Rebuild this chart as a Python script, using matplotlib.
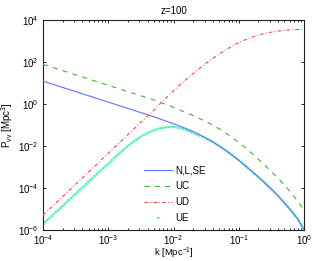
import numpy as np
import matplotlib
matplotlib.use("Agg")
import matplotlib.pyplot as plt
from matplotlib.lines import Line2D
from matplotlib.ticker import LogLocator, NullLocator

plt.rcParams['font.family'] = ['Liberation Sans', 'DejaVu Sans']
plt.rcParams['mathtext.fontset'] = 'custom'
plt.rcParams['mathtext.rm'] = 'Liberation Sans'
plt.rcParams['mathtext.it'] = 'Liberation Sans:italic'
plt.rcParams['mathtext.bf'] = 'Liberation Sans:bold'
plt.rcParams['lines.scale_dashes'] = False

# log10(k) grid, 0.1-decade steps from 1e-4 to 1
log_k = [-4.0, -3.9, -3.8, -3.7, -3.6, -3.5, -3.4, -3.3, -3.2, -3.1,
         -3.0, -2.9, -2.8, -2.7, -2.6, -2.5, -2.4, -2.3, -2.2, -2.1,
         -2.0, -1.9, -1.8, -1.7, -1.6, -1.5, -1.4, -1.3, -1.2, -1.1,
         -1.0, -0.9, -0.8, -0.7, -0.6, -0.5, -0.4, -0.3, -0.2, -0.1, 0.0]

# log10(P_vv)
log_nlse = [1.09, 0.99, 0.89, 0.79, 0.69, 0.59, 0.49, 0.39, 0.29, 0.19,
            0.09, -0.01, -0.11, -0.21, -0.31, -0.41, -0.51, -0.61, -0.72, -0.83,
            -0.94, -1.06, -1.18, -1.31, -1.46, -1.62, -1.80, -2.00, -2.21, -2.44,
            -2.68, -2.94, -3.21, -3.48, -3.76, -4.06, -4.37, -4.71, -5.07, -5.46, -5.98]
log_uc = [1.89, 1.79, 1.69, 1.59, 1.49, 1.39, 1.29, 1.19, 1.09, 0.99,
          0.89, 0.79, 0.69, 0.59, 0.49, 0.39, 0.29, 0.19, 0.08, -0.04,
          -0.16, -0.29, -0.42, -0.55, -0.69, -0.84, -1.00, -1.18, -1.38, -1.60,
          -1.83, -2.08, -2.35, -2.63, -2.92, -3.22, -3.53, -3.85, -4.22, -4.62, -5.05]
log_ud = [-5.29, -5.00, -4.71, -4.41, -4.12, -3.82, -3.53, -3.23, -2.94, -2.64,
          -2.35, -2.05, -1.76, -1.46, -1.17, -0.87, -0.58, -0.29, 0.03, 0.33,
          0.63, 0.92, 1.19, 1.45, 1.70, 1.94, 2.17, 2.38, 2.58, 2.76,
          2.92, 3.06, 3.18, 3.28, 3.36, 3.42, 3.47, 3.51, 3.53, 3.55, 3.56]
log_ue = [-5.72, -5.43, -5.14, -4.85, -4.56, -4.27, -3.98, -3.69, -3.40, -3.12,
          -2.84, -2.55, -2.27, -2.00, -1.76, -1.55, -1.38, -1.25, -1.15, -1.10,
          -1.09, -1.14, -1.25, -1.38, -1.51, -1.65, -1.81, -2.00, -2.21, -2.44,
          -2.68, -2.94, -3.21, -3.48, -3.76, -4.06, -4.37, -4.71, -5.07, -5.46, -5.98]

labels = ['N,L,SE', 'UC', 'UD', 'UE']
title = 'z=100'

k = 10.0 ** np.array(log_k)
c_blue = '#6273ff'
c_green = '#3cb832'
c_red = '#ff4545'
c_ue = '#3cf5b0'

fig = plt.figure(figsize=(3.15, 2.61), dpi=100)
ax = fig.add_axes([0.1365, 0.1188, 0.8286, 0.8046])

ax.plot(k, 10.0 ** np.array(log_ue), color=c_ue, lw=1.6,
        linestyle=(0, (0.01, 2.1)), dash_capstyle='projecting', zorder=2)
ax.plot(k, 10.0 ** np.array(log_nlse), color=c_blue, lw=0.8, zorder=3)
ax.plot(k, 10.0 ** np.array(log_uc), color=c_green, lw=0.8,
        linestyle=(0, (3.6, 3.8)), zorder=3)
ax.plot(k, 10.0 ** np.array(log_ud), color=c_red, lw=0.8,
        linestyle=(0, (2.6, 1.6, 0.6, 1.6)), zorder=3)

ax.set_xscale('log')
ax.set_yscale('log')
ax.set_xlim(1e-4, 1)
ax.set_ylim(1e-6, 1e4)
ax.set_yticks([1e-6, 1e-4, 1e-2, 1e0, 1e2, 1e4])
ax.yaxis.set_minor_locator(NullLocator())
ax.xaxis.set_minor_locator(LogLocator(base=10, subs=np.arange(2, 10), numticks=20))

ax.tick_params(which='both', direction='in', top=True, right=True,
               labelsize=7, width=0.6)
ax.tick_params(which='major', length=2.4)
ax.tick_params(axis='x', which='major', pad=2.6)
ax.tick_params(axis='y', which='major', pad=3)
ax.tick_params(which='minor', length=1.3)
for s in ax.spines.values():
    s.set_linewidth(0.8)
    s.set_color('#222222')

ax.set_title(title, fontsize=7, pad=4)
ax.set_xlabel(r'k [Mpc$^{-1}$]', fontsize=6.8)
ax.xaxis.set_label_coords(0.5, -0.077)
ax.set_ylabel(r'P$_{\rm vv}$ [Mpc$^{3}$]', fontsize=7, labelpad=2)

handles = [
    Line2D([], [], color=c_blue, lw=0.8),
    Line2D([], [], color=c_green, lw=0.8, linestyle=(0, (3.6, 3.8))),
    Line2D([], [], color=c_red, lw=0.8, linestyle=(0, (2.6, 1.6, 0.6, 1.6))),
    Line2D([], [], color=c_ue, ls='none', marker='s', markersize=1.6, markeredgewidth=0),
]
ax.legend(handles, labels, loc='lower left', bbox_to_anchor=(0.36, 0.0),
          frameon=False, fontsize=7, handlelength=2.9, handletextpad=0.3,
          labelspacing=0.62, numpoints=1, borderaxespad=0.3)

fig.savefig('out.png', dpi=100)
